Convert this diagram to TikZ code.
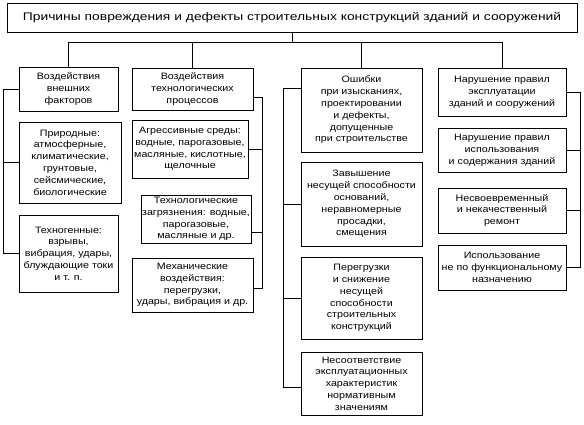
\documentclass[tikz,border=0pt]{standalone}
\usepackage{fontspec}
\setmainfont{Liberation Sans}[FakeStretch=1.15]
\newfontfamily\titlefont{Liberation Sans}[FakeStretch=1.26]
\begin{document}
\begin{tikzpicture}[x=1pt,y=-1pt,
  box/.style={draw, line width=0.7pt, align=center, inner sep=1pt,
    font=\fontsize{9.3}{11.8}\selectfont},
  conn/.style={draw, line width=0.7pt}]
\useasboundingbox (0,0) rectangle (584,425);
% title
\node[box, minimum width=570pt, minimum height=29pt, font=\titlefont\fontsize{11}{13}\selectfont] (title) at (292,17.5)
  {Причины повреждения и дефекты строительных конструкций зданий и сооружений};
% column 1
\node[box, minimum width=99pt, minimum height=44pt] (h1) at (68.5,89)
  {Воздействия\\внешних\\факторов};
\node[box, minimum width=102pt, minimum height=81pt] (b1a) at (70,162.5)
  {Природные:\\атмосферные,\\климатические,\\грунтовые,\\сейсмические,\\биологические};
\node[box, minimum width=99pt, minimum height=77pt] (b1b) at (68.5,253.5)
  {Техногенные:\\взрывы,\\вибрация, удары,\\блуждающие токи\\и т. п.};
% column 2
\node[box, minimum width=121pt, minimum height=42pt] (h2) at (192.5,89)
  {Воздействия\\технологических\\процессов};
\node[box, minimum width=116pt, minimum height=58pt] (b2a) at (190,149)
  {Агрессивные среды:\\водные, парогазовые,\\масляные, кислотные,\\щелочные};
\node[box, minimum width=108pt, minimum height=48pt] (b2b) at (196,219)
  {Технологические\\загрязнения: водные,\\парогазовые,\\масляные и др.};
\node[box, minimum width=121pt, minimum height=54pt] (b2c) at (192.5,285)
  {Механические\\воздействия:\\перегрузки,\\удары, вибрация и др.};
% column 3
\node[box, minimum width=121pt, minimum height=84pt] (h3) at (361.5,110)
  {Ошибки\\при изысканиях,\\проектировании\\и дефекты,\\допущенные\\при строительстве};
\node[box, minimum width=121pt, minimum height=84pt] (b3a) at (361.5,204)
  {Завышение\\несущей способности\\оснований,\\неравномерные\\просадки,\\смещения};
\node[box, minimum width=121pt, minimum height=82pt] (b3b) at (361.5,298)
  {Перегрузки\\и снижение\\несущей\\способности\\строительных\\конструкций};
\node[box, minimum width=121pt, minimum height=63pt] (b3c) at (361.5,383.5)
  {Несоответствие\\эксплуатационных\\характеристик\\нормативным\\значениям};
% column 4
\node[box, minimum width=128pt, minimum height=48pt] (h4) at (502,92)
  {Нарушение правил\\эксплуатации\\зданий и сооружений};
\node[box, minimum width=128pt, minimum height=44pt] (b4a) at (502,150)
  {Нарушение правил\\использования\\и содержания зданий};
\node[box, minimum width=128pt, minimum height=45pt] (b4b) at (502,210.5)
  {Несвоевременный\\и некачественный\\ремонт};
\node[box, minimum width=128pt, minimum height=45pt] (b4c) at (502,267.5)
  {Использование\\не по функциональному\\назначению};
% bus coordinates
\coordinate (busL) at (68.5,42);
\coordinate (busR) at (502,42);
\coordinate (x1) at (3,0);
\coordinate (x2) at (262,0);
\coordinate (x3) at (283,0);
\coordinate (x4) at (580,0);
% top tree
\draw[conn] (title.south) -- (title.south |- busL);
\draw[conn] (busL) -- (busR);
\draw[conn] (busL) -- (h1.north);
\draw[conn] (h2.north |- busL) -- (h2.north);
\draw[conn] (h3.north |- busL) -- (h3.north);
\draw[conn] (busR) -- (h4.north);
% column 1 bus (left)
\draw[conn] (h1.west) -- (h1.west -| x1) -- (b1b.west -| x1) -- (b1b.west);
\draw[conn] (b1a.west) -- (b1a.west -| x1);
% column 2 bus (right)
\coordinate (c2h) at ([yshift=-8pt]h2.east);
\coordinate (c2b) at ([yshift=-13pt]b2b.east);
\coordinate (c2c) at ([yshift=-3pt]b2c.east);
\draw[conn] (c2h) -- (c2h -| x2) -- (c2c -| x2) -- (c2c);
\draw[conn] (b2a.east) -- (b2a.east -| x2);
\draw[conn] (c2b) -- (c2b -| x2);
% column 3 bus (left)
\coordinate (c3h) at ([yshift=22pt]h3.west);
\coordinate (c3c) at ([yshift=-3.5pt]b3c.west);
\draw[conn] (c3h) -- (c3h -| x3) -- (c3c -| x3) -- (c3c);
\draw[conn] (b3a.west) -- (b3a.west -| x3);
\draw[conn] (b3b.west) -- (b3b.west -| x3);
% column 4 bus (right)
\draw[conn] (h4.east) -- (h4.east -| x4) -- (b4c.east -| x4) -- (b4c.east);
\draw[conn] (b4a.east) -- (b4a.east -| x4);
\draw[conn] (b4b.east) -- (b4b.east -| x4);
\end{tikzpicture}
\end{document}
